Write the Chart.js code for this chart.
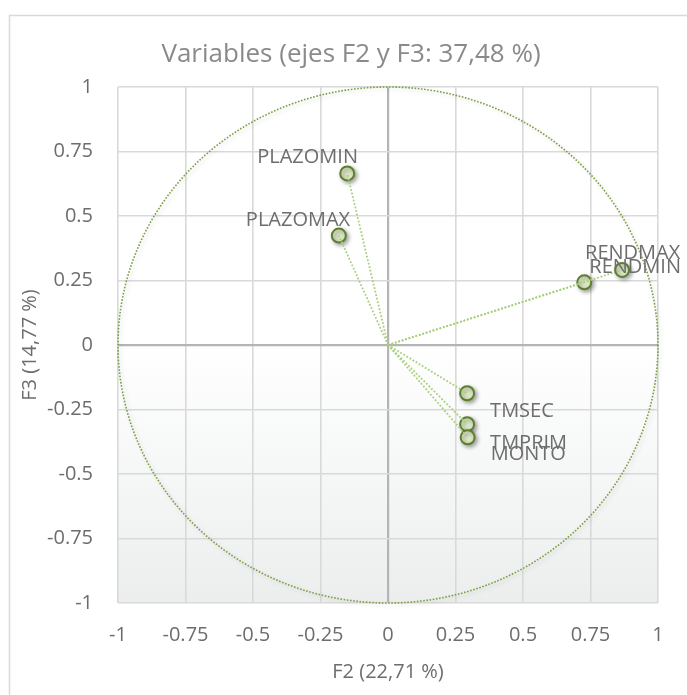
<!DOCTYPE html>
<html>
<head>
<meta charset="utf-8">
<script src="https://cdn.jsdelivr.net/npm/chart.js@4.4.0/dist/chart.umd.min.js"></script>
<style>
  html, body { margin: 0; padding: 0; background: #ffffff; }
  #wrap { width: 687px; height: 695px; }
</style>
</head>
<body>
<div id="wrap"><canvas id="c" width="687" height="695"></canvas></div>
<script>
// Correlation circle: variables projected on factors F2 and F3
const variables = ['PLAZOMIN', 'PLAZOMAX', 'RENDMAX', 'RENDMIN', 'TMSEC', 'TMPRIM', 'MONTO'];
const f2 = [-0.151, -0.182, 0.867, 0.727, 0.293, 0.293, 0.295];
const f3 = [0.665, 0.424, 0.291, 0.243, -0.187, -0.307, -0.358];
const axisTicks = ['-1', '-0.75', '-0.5', '-0.25', '0', '0.25', '0.5', '0.75', '1'];
const chartTitle = 'Variables (ejes F2 y F3: 37,48 %)';
const xTitle = 'F2 (22,71 %)';
const yTitle = 'F3 (14,77 %)';

// where each variable name sits relative to its point (px: left edge, vertical middle)
const labelShift = [[-90, -16], [-93, -15], [-37, -17], [5, -15], [23, 18], [23, 19], [23, 17]];

const FONT = "'Open Sans', 'DejaVu Sans', sans-serif";
const TEXT = '#6d6d6d';

const frame = {
  id: 'frame',
  beforeDraw(chart) {
    const { ctx, chartArea: a } = chart;
    ctx.save();
    ctx.fillStyle = '#ffffff';
    ctx.fillRect(0, 0, chart.width, chart.height);
    ctx.strokeStyle = '#d9d9d9';
    ctx.lineWidth = 1.5;
    ctx.strokeRect(9.5, 15.5, chart.width + 20, chart.height + 20);
    const g = ctx.createLinearGradient(0, a.top, 0, a.bottom);
    g.addColorStop(0, '#ffffff');
    g.addColorStop(0.5, '#ffffff');
    g.addColorStop(1, '#eceeee');
    ctx.fillStyle = g;
    ctx.fillRect(a.left, a.top, a.right - a.left, a.bottom - a.top);
    ctx.restore();
  },
  afterDraw(chart) {
    const { ctx } = chart;
    ctx.save();
    ctx.font = '26px ' + FONT;
    ctx.fillStyle = '#8a8a8a';
    ctx.textAlign = 'center';
    ctx.textBaseline = 'middle';
    ctx.fillText(chartTitle, 351, 55);
    ctx.restore();
  }
};

// unit circle, drawn through the scales so it follows the axis ranges
const unitCircle = {
  id: 'unitCircle',
  beforeDatasetsDraw(chart) {
    const { ctx, scales: { x, y } } = chart;
    const cx = x.getPixelForValue(0), cy = y.getPixelForValue(0);
    const rx = x.getPixelForValue(1) - cx, ry = cy - y.getPixelForValue(1);
    ctx.save();
    ctx.shadowColor = 'rgba(0,0,0,0.18)';
    ctx.shadowBlur = 4;
    ctx.shadowOffsetX = 2;
    ctx.shadowOffsetY = 2;
    ctx.strokeStyle = '#7aa043';
    ctx.lineWidth = 1.6;
    ctx.setLineDash([1.6, 1.6]);
    ctx.beginPath();
    ctx.ellipse(cx, cy, rx, ry, 0, 0, Math.PI * 2);
    ctx.stroke();
    ctx.restore();
  }
};

const pointShadow = {
  id: 'pointShadow',
  beforeDatasetDraw(chart, args) {
    const ds = chart.data.datasets[args.index];
    if (!ds.shadow) return;
    const ctx = chart.ctx;
    ctx.save();
    ctx.shadowColor = 'rgba(0,0,0,0.35)';
    ctx.shadowBlur = 4;
    ctx.shadowOffsetX = 2;
    ctx.shadowOffsetY = 2;
  },
  afterDatasetDraw(chart, args) {
    const ds = chart.data.datasets[args.index];
    if (!ds.shadow) return;
    chart.ctx.restore();
  }
};

const pointNames = {
  id: 'pointNames',
  afterDatasetsDraw(chart) {
    const { ctx, scales: { x, y } } = chart;
    ctx.save();
    ctx.font = '20px ' + FONT;
    ctx.fillStyle = TEXT;
    ctx.textAlign = 'left';
    ctx.textBaseline = 'middle';
    variables.forEach((name, i) => {
      const px = x.getPixelForValue(f2[i]);
      const py = y.getPixelForValue(f3[i]);
      ctx.fillText(name, px + labelShift[i][0], py + labelShift[i][1]);
    });
    ctx.restore();
  }
};

// one dotted ray from the origin to every variable
const rays = variables.map((name, i) => ({
  label: name,
  data: [{ x: 0, y: 0 }, { x: f2[i], y: f3[i] }],
  showLine: true,
  borderColor: '#a9cf7c',
  borderWidth: 1.8,
  borderDash: [1.8, 1.8],
  pointRadius: 0,
  fill: false
}));

const points = {
  label: 'Variables',
  data: variables.map((name, i) => ({ x: f2[i], y: f3[i] })),
  pointRadius: 7,
  pointBorderWidth: 2,
  pointBackgroundColor: '#dbe8c6',
  pointBorderColor: '#5e7d2e',
  showLine: false,
  shadow: true
};

const gridColor = (c) => (c.tick && c.tick.value === 0 ? '#b4b4b4' : '#d9d9d9');
const gridWidth = (c) => (c.tick && c.tick.value === 0 ? 2.2 : 1.6);

new Chart(document.getElementById('c'), {
  type: 'scatter',
  data: { datasets: [...rays, points] },
  options: {
    responsive: false,
    animation: false,
    events: [],
    layout: { padding: { left: 0, right: 29, top: 87, bottom: 0 } },
    plugins: {
      legend: { display: false },
      title: { display: false },
      tooltip: { enabled: false }
    },
    scales: {
      x: {
        type: 'linear',
        min: -1, max: 1,
        afterFit(scale) { scale.height = 92; },
        border: { display: false },
        grid: { color: gridColor, lineWidth: gridWidth, drawTicks: false },
        ticks: {
          stepSize: 0.25,
          padding: 20,
          color: TEXT,
          font: { family: FONT, size: 20 },
          maxRotation: 0,
          callback: (v, i) => axisTicks[i]
        },
        title: {
          display: true,
          text: xTitle,
          color: TEXT,
          font: { family: FONT, size: 20 },
          padding: { top: 0, bottom: 11 }
        }
      },
      y: {
        type: 'linear',
        min: -1, max: 1,
        afterFit(scale) { scale.width = 118; },
        border: { display: false },
        grid: { color: gridColor, lineWidth: gridWidth, drawTicks: false },
        ticks: {
          stepSize: 0.25,
          padding: 25,
          color: TEXT,
          font: { family: FONT, size: 20 },
          callback: (v, i) => axisTicks[i]
        },
        title: {
          display: true,
          text: yTitle,
          color: TEXT,
          font: { family: FONT, size: 20 },
          padding: { top: 18, bottom: 0 }
        }
      }
    }
  },
  plugins: [frame, unitCircle, pointShadow, pointNames]
});
</script>
</body>
</html>
